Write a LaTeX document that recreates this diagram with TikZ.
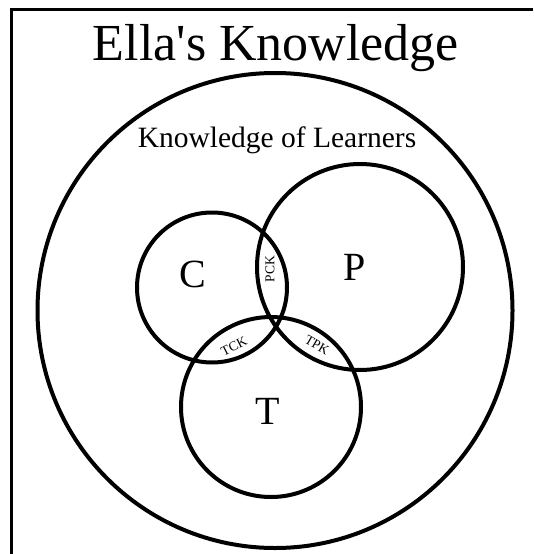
\documentclass[tikz,border=0pt]{standalone}
\usepackage{fontspec}
\setmainfont{Liberation Serif}
\begin{document}
\begin{tikzpicture}[x=1pt,y=-1pt,
  ring/.style={draw, circle, line width=4pt, inner sep=0pt},
  lbl/.style={inner sep=0pt, anchor=base},
  small/.style={inner sep=0pt, font=\fontsize{13.5}{13.5}\selectfont}]
\useasboundingbox (0,0) rectangle (533,554);
\fill[white] (0,0) rectangle (533,554);
\draw[line width=3.5pt] (533,9.5) -- (11.5,9.5) -- (11.5,554);
\node[ring, minimum size=475pt] (L) at (275,310.5) {};
\node[ring, minimum size=150pt] (C) at (212,287.5) {};
\node[ring, minimum size=206pt] (P) at (360,267) {};
\node[ring, minimum size=180pt] (T) at (271,407) {};
\node[lbl, font=\fontsize{52}{52}\selectfont] (title) at (276,60) {Ella\textquotesingle s Knowledge};
\node[lbl, font=\fontsize{29.5}{29.5}\selectfont] (learners) at (277,147) {Knowledge of Learners};
\node[lbl, font=\fontsize{40}{40}\selectfont] (Cl) at (193,287) {C};
\node[lbl, font=\fontsize{40}{40}\selectfont] (Pl) at (355,280) {P};
\node[lbl, font=\fontsize{40}{40}\selectfont] (Tl) at (268,424) {T};
\node[small, rotate=90] (pck) at (270,269) {PCK};
\node[small, rotate=27] (tck) at (234,346) {TCK};
\node[small, rotate=-30] (tpk) at (317,345) {TPK};
\end{tikzpicture}
\end{document}
